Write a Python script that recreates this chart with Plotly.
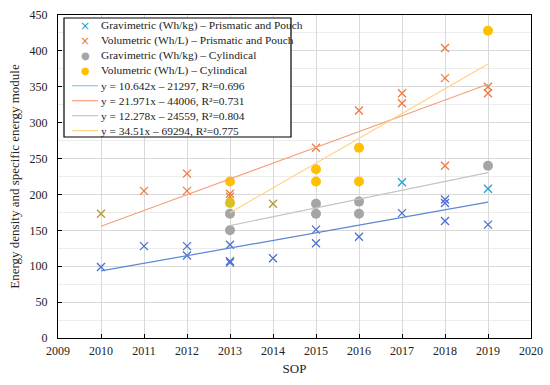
import plotly.graph_objects as go

# Gravimetric (Wh/kg) - Prismatic and Pouch
gp_x = [2017, 2019, 2010, 2011, 2012, 2012, 2013, 2013, 2013, 2014, 2015, 2015, 2016, 2017, 2018, 2018, 2018, 2019]
gp_y = [217, 208, 99, 128, 128, 115, 130, 107, 105, 111, 151, 132, 141, 174, 193, 188, 163, 158]
# Volumetric (Wh/L) - Prismatic and Pouch
vp_x = [2011, 2010, 2012, 2012, 2013, 2013, 2014, 2015, 2016, 2017, 2017, 2018, 2018, 2018, 2019, 2019]
vp_y = [205, 173, 229, 205, 201, 197, 187, 265, 317, 341, 327, 404, 362, 240, 350, 341]
# Gravimetric (Wh/kg) - Cylindrical
gc_x = [2013, 2013, 2015, 2015, 2016, 2016, 2019]
gc_y = [173, 150, 187, 173, 190, 173, 240]
# Volumetric (Wh/L) - Cylindrical
vc_x = [2013, 2013, 2015, 2015, 2016, 2016, 2019]
vc_y = [218, 188, 235, 218, 265, 218, 428]

series_names = ["Gravimetric (Wh/kg) – Prismatic and Pouch", "Volumetric (Wh/L) – Prismatic and Pouch",
                "Gravimetric (Wh/kg) – Cylindical", "Volumetric (Wh/L) – Cylindical"]

# Trendline coefficients (slope, intercept) and spans
trend_names = ["y = 10.642x – 21297, R²=0.696", "y = 21.971x – 44006, R²=0.731",
               "y = 12.278x – 24559, R²=0.804", "y = 34.51x – 69294, R²=0.775"]
trend_slope = [10.642, 21.971, 12.278, 34.51]
trend_icpt = [-21297, -44006, -24559, -69294]
trend_span = [[2010, 2019], [2010, 2019], [2013, 2019], [2013, 2019]]

BLUE = "#4a6fd0"
CYAN = "#1f9fd8"
ORANGE = "#ef7a3c"
OLIVE = "#b8963a"
GRAY = "#a5a5a5"
YEL = "#ffc000"
trend_colors = ["#5b86d6", "#f4a07c", "#c4c4c4", "#ffd27f"]
trend_legend_colors = ["#7fd0e8", "#f4a07c", "#c4c4c4", "#ffd27f"]

gp_colors = [CYAN, CYAN] + [BLUE] * (len(gp_x) - 2)
vp_colors = [ORANGE, OLIVE, ORANGE, ORANGE, ORANGE, ORANGE, OLIVE] + [ORANGE] * (len(vp_x) - 7)
vc_colors = [YEL, "#d8c222", YEL, YEL, YEL, YEL, YEL]

fig = go.Figure()
fig.add_trace(go.Scatter(x=gp_x, y=gp_y, mode="markers", name=series_names[0],
                         marker=dict(symbol="x-thin", size=8, color=gp_colors, line=dict(width=1.3, color=gp_colors))))
fig.add_trace(go.Scatter(x=vp_x, y=vp_y, mode="markers", name=series_names[1],
                         marker=dict(symbol="x-thin", size=8, color=vp_colors, line=dict(width=1.3, color=vp_colors))))
fig.add_trace(go.Scatter(x=gc_x, y=gc_y, mode="markers", name=series_names[2],
                         marker=dict(symbol="circle", size=10, color=GRAY)))
fig.add_trace(go.Scatter(x=vc_x, y=vc_y, mode="markers", name=series_names[3],
                         marker=dict(symbol="circle", size=10, color=vc_colors)))
for nm, m, b, sp, c in zip(trend_names, trend_slope, trend_icpt, trend_span, trend_colors):
    xs = list(sp)
    ys = [m * v + b for v in xs]
    fig.add_trace(go.Scatter(x=xs, y=ys, mode="lines", name=nm, line=dict(color=c, width=1.2)))

W, H = 550, 385
ML, MR, MT, MB = 58, 19, 15, 47
PW, PH = W - ML - MR, H - MT - MB


def px(xp):
    return (xp - ML) / PW


def py(yp):
    return (H - MB - yp) / PH


font = "'Liberation Serif', 'DejaVu Serif', serif"

# Hand-drawn compact legend (Plotly's native legend rows are too tall)
shapes = [dict(type="rect", xref="paper", yref="paper", x0=px(64), x1=px(291), y0=py(137), y1=py(18),
               line=dict(color="black", width=1.2), fillcolor="white", layer="above")]
annotations = []
row_y = [25.7 + 15 * i for i in range(8)]
marker_glyphs = ["×", "×", "●", "●"]
marker_cols = [CYAN, ORANGE, GRAY, YEL]
marker_sizes = [12, 12, 10, 10]
labels = series_names + trend_names
for i, lab in enumerate(labels):
    annotations.append(dict(x=px(100), y=py(row_y[i]), xref="paper", yref="paper", text=lab, showarrow=False,
                            xanchor="left", yanchor="middle", borderpad=0,
                            font=dict(family=font, size=11.4, color="#222")))
for i in range(4):
    annotations.append(dict(x=px(85), y=py(row_y[i]), xref="paper", yref="paper", text=marker_glyphs[i],
                            showarrow=False, xanchor="center", yanchor="middle", borderpad=0,
                            font=dict(family="DejaVu Sans", size=marker_sizes[i], color=marker_cols[i])))
    shapes.append(dict(type="line", xref="paper", yref="paper", x0=px(72), x1=px(98),
                       y0=py(row_y[4 + i]), y1=py(row_y[4 + i]),
                       line=dict(color=trend_legend_colors[i], width=1.2), layer="above"))

fig.update_layout(
    width=W, height=H,
    margin=dict(l=ML, r=MR, t=MT, b=MB, autoexpand=False),
    paper_bgcolor="white", plot_bgcolor="white",
    font=dict(family=font, size=12, color="#222"),
    showlegend=False,
    shapes=shapes, annotations=annotations,
)
fig.update_xaxes(range=[2009, 2020], dtick=1, tick0=2009, showgrid=True, gridcolor="#d9d9d9", gridwidth=1,
                 showline=True, linecolor="black", linewidth=1.2, mirror=True, automargin=False,
                 ticks="inside", ticklen=4, tickcolor="black", zeroline=False, ticklabelstandoff=1,
                 title=dict(text="SOP", font=dict(size=13), standoff=7))
fig.update_yaxes(range=[0, 450], dtick=50, showgrid=True, gridcolor="#d9d9d9", gridwidth=1,
                 minor=dict(dtick=25, showgrid=True, gridcolor="#ececec"),
                 showline=True, linecolor="black", linewidth=1.2, mirror=True, automargin=False,
                 ticks="inside", ticklen=4, tickcolor="black", zeroline=False, ticklabelstandoff=7,
                 title=dict(text="Energy density and specific energy module", font=dict(size=13), standoff=6))
fig.write_html("out.html", config={"displayModeBar": False},
               post_script="document.body.style.margin='0';document.body.style.overflow='hidden';")
